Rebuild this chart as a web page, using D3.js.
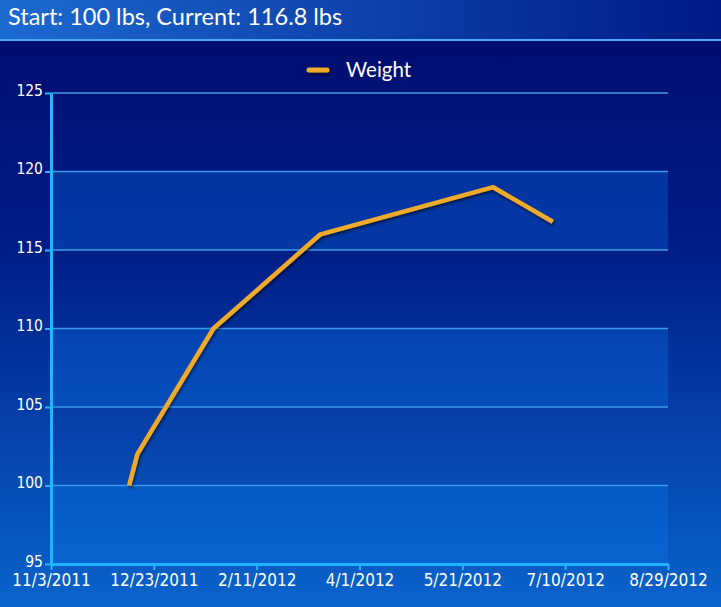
<!DOCTYPE html>
<html><head><meta charset="utf-8">
<script src="https://cdn.jsdelivr.net/npm/d3@7"></script>
<style>html,body{margin:0;padding:0;background:#000c6e;}svg{display:block;}</style>
</head><body>
<script>
const dates = ["12/11/2011","12/15/2011","1/21/2012","3/13/2012","6/5/2012","7/4/2012"];
const weights = [100, 102, 110, 116, 119, 116.8];
const xTickLabels = ["11/3/2011","12/23/2011","2/11/2012","4/1/2012","5/21/2012","7/10/2012","8/29/2012"];
const yTicks = [95,100,105,110,115,120,125];
const seriesName = "Weight";
const subtitle = "Start: 100 lbs, Current: 116.8 lbs";

const W = 721, H = 607;
const tickFont = "'Liberation Sans Narrow','DejaVu Sans Condensed',sans-serif";
const parse = d3.timeParse("%m/%d/%Y");
const svg = d3.select("body").append("svg").attr("width", W).attr("height", H);
const defs = svg.append("defs");
const bg = defs.append("linearGradient").attr("id","bg").attr("x1",0).attr("y1",0).attr("x2",0).attr("y2",1);
bg.append("stop").attr("offset","0%").attr("stop-color","#000a6c");
bg.append("stop").attr("offset","40%").attr("stop-color","#001c86");
bg.append("stop").attr("offset","100%").attr("stop-color","#0a64cc");
const hd = defs.append("linearGradient").attr("id","hd").attr("x1",0).attr("y1",0).attr("x2",1).attr("y2",0);
hd.append("stop").attr("offset","0%").attr("stop-color","#1c6ad0");
hd.append("stop").attr("offset","100%").attr("stop-color","#001a86");
const sh = defs.append("filter").attr("id","sh").attr("filterUnits","userSpaceOnUse")
  .attr("x",0).attr("y",0).attr("width",W).attr("height",H);
sh.append("feDropShadow").attr("dx",1).attr("dy",2).attr("stdDeviation",1.5).attr("flood-color","#000").attr("flood-opacity",0.6);

svg.append("rect").attr("x",0).attr("y",0).attr("width",W).attr("height",H).attr("fill","url(#bg)");
svg.append("rect").attr("x",0).attr("y",0).attr("width",W).attr("height",40).attr("fill","url(#hd)");
svg.append("rect").attr("x",0).attr("y",39).attr("width",W).attr("height",2).attr("fill","#4aa8f4");
svg.append("text").attr("x",8).attr("y",25).attr("fill","#fff")
  .attr("font-family","Lato, 'Open Sans', sans-serif").attr("font-size",23.5).text(subtitle);

const m = {l:51, r:668, t:93, b:564};
const x = d3.scaleTime().domain([parse(xTickLabels[0]), parse(xTickLabels[xTickLabels.length-1])]).range([m.l, m.r]);
const y = d3.scaleLinear().domain([yTicks[0], yTicks[yTicks.length-1]]).range([m.b, m.t]);

// alternating bands
const g = svg.append("g");
for (let i = 0; i < yTicks.length-1; i++) {
  if ((yTicks.length-2-i) % 2 === 1) {
    g.append("rect").attr("x",m.l).attr("width",m.r-m.l)
      .attr("y", y(yTicks[i+1])).attr("height", y(yTicks[i]) - y(yTicks[i+1]))
      .attr("fill","#0a7af0").attr("opacity",0.3);
  }
}
// grid
g.selectAll("line.grid").data(yTicks.slice(1)).join("line")
  .attr("x1",m.l).attr("x2",m.r).attr("y1",d=>y(d)).attr("y2",d=>y(d))
  .attr("stroke","#3c98ea").attr("stroke-width",1.5);

// axes
const xAxis = svg.append("g").attr("transform",`translate(0,${m.b})`)
  .call(d3.axisBottom(x).tickValues(xTickLabels.map(parse)).tickFormat(d3.timeFormat("%-m/%-d/%Y")).tickSize(6).tickSizeOuter(0));
xAxis.attr("font-family", tickFont);
xAxis.select(".domain").attr("stroke","#22b4ff").attr("stroke-width",3);
xAxis.selectAll(".tick line").attr("stroke","#22b4ff").attr("stroke-width",2);
xAxis.selectAll(".tick text").attr("fill","#fff").attr("font-size",17).attr("y",10).attr("dy","0.72em");

const yAxis = svg.append("g").attr("transform",`translate(${m.l},0)`)
  .call(d3.axisLeft(y).tickValues(yTicks).tickSize(6).tickSizeOuter(0));
yAxis.attr("font-family", tickFont);
yAxis.select(".domain").attr("stroke","#22b4ff").attr("stroke-width",3);
yAxis.selectAll(".tick line").attr("stroke","#22b4ff").attr("stroke-width",2);
yAxis.selectAll(".tick text").attr("fill","#fff").attr("font-size",15.5).attr("x",-8).attr("dy","0.15em");

// line
const data = dates.map((d,i)=>({d:parse(d), v:weights[i]}));
svg.append("path").datum(data)
  .attr("d", d3.line().x(p=>x(p.d)).y(p=>y(p.v)))
  .attr("fill","none").attr("stroke","#f0aa2c").attr("stroke-width",4.5)
  .attr("stroke-linejoin","round").attr("filter","url(#sh)");

// legend
svg.append("line").attr("x1",309).attr("x2",327).attr("y1",70).attr("y2",70)
  .attr("stroke","#f0aa2c").attr("stroke-width",5).attr("stroke-linecap","round").attr("filter","url(#sh)");
svg.append("text").attr("x",346).attr("y",77).attr("fill","#fff")
  .attr("font-family","Lato, 'Open Sans', sans-serif").attr("font-size",20.5).text(seriesName);
</script>
</body></html>
